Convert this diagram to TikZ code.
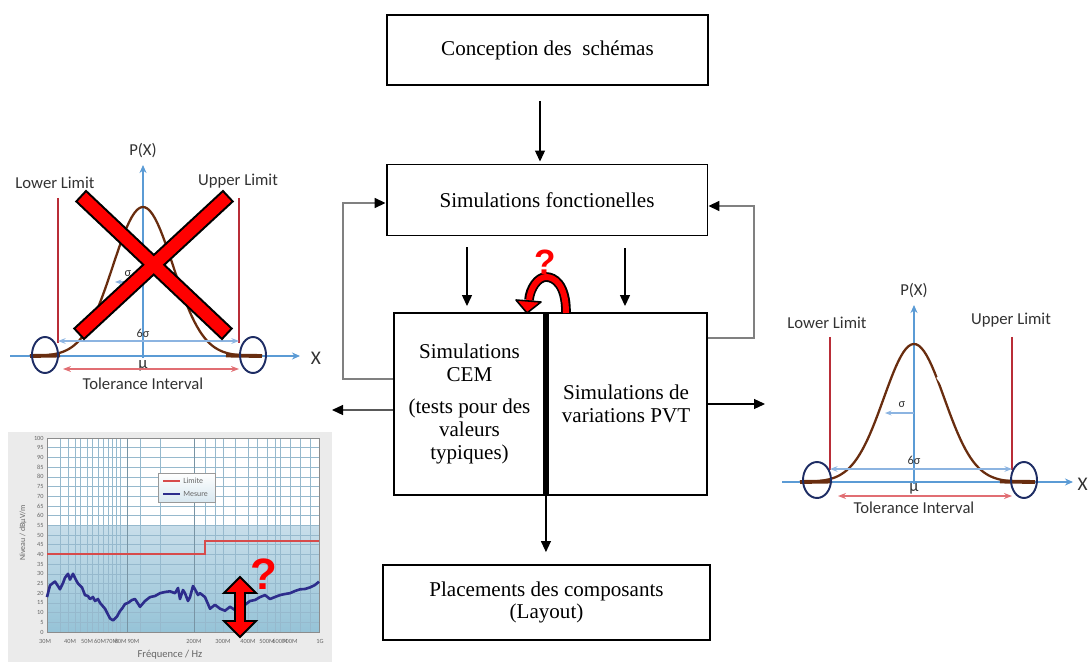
\documentclass[tikz,border=0pt]{standalone}
\usepackage{fontspec}
\setmainfont{Liberation Serif}
\newfontfamily\plotfont{Carlito}
\newfontfamily\qfont{Liberation Sans}
\usetikzlibrary{arrows.meta,calc}
\definecolor{axblue}{RGB}{91,155,213}
\definecolor{sixblue}{RGB}{140,180,225}
\definecolor{limred}{RGB}{185,45,55}
\definecolor{tolred}{RGB}{225,110,115}
\definecolor{bellbrown}{RGB}{105,45,15}
\definecolor{navyc}{RGB}{30,45,100}
\definecolor{fbgray}{RGB}{128,128,128}
\definecolor{gridc}{RGB}{150,185,205}
\definecolor{measblue}{RGB}{45,45,140}
\definecolor{chartred}{RGB}{215,75,75}
\definecolor{fillhi}{RGB}{200,222,234}
\definecolor{filllo}{RGB}{150,195,215}
\definecolor{txtgray}{RGB}{50,50,50}
\tikzset{
  box/.style={draw, line width=1.1pt, align=center, inner sep=0pt, font=\fontsize{12}{13}\selectfont},
  arr/.style={line width=0.7pt, -{Triangle[length=2.2mm,width=2mm]}},
  fbline/.style={draw=fbgray, line width=0.9pt, -{Triangle[length=2.2mm,width=2mm,color=black]}},
  axarrow/.style={axblue, line width=0.6pt, -{Stealth[length=1.6mm,width=1.4mm]}},
  limline/.style={limred, line width=0.9pt},
  bellcurve/.style={bellbrown, line width=1.3pt},
  belltail/.style={bellbrown, line width=2.2pt},
  ringc/.style={navyc, line width=1.1pt},
  sixarrow/.style={sixblue, line width=0.8pt, {Stealth[length=1.5mm]}-{Stealth[length=1.5mm]}},
  tolarrow/.style={tolred, line width=0.9pt, {Stealth[length=1.6mm]}-{Stealth[length=1.6mm]}},
  lbl/.style={font=\plotfont\fontsize{9.5}{11}\selectfont, text=txtgray, inner sep=0pt},
  smalllbl/.style={font=\plotfont\fontsize{7}{8}\selectfont, text=txtgray, inner sep=0pt},
  ticklbl/.style={font=\plotfont\fontsize{3.6}{4}\selectfont, text=black!60, inner sep=0pt},
  qmark/.style={text=red, font=\qfont\bfseries\fontsize{20}{20}\selectfont, inner sep=0pt},
}
\begin{document}
\begin{tikzpicture}[x=0.02cm,y=-0.02cm]
\useasboundingbox (0,0) rectangle (1089,662);

% ===== central flow =====
\node[box, minimum width=6.42cm, minimum height=1.4cm] (conc) at (547.5,50) {Conception des\ \ schémas};
\node[box, minimum width=6.42cm, minimum height=1.42cm] (fonc) at (547,200) {Simulations fonctionelles};
\node[box, minimum width=3.02cm, minimum height=3.64cm] (cem) at (469.5,404)
  {Simulations\\CEM\\[5pt](tests pour des\\valeurs\\typiques)};
\node[box, minimum width=3.24cm, minimum height=3.64cm] (pvt) at (626,404)
  {Simulations de\\variations PVT};
\draw[line width=3pt] (cem.north east) -- (cem.south east);
\node[box, minimum width=6.54cm, minimum height=1.5cm] (place) at (546.5,602.5)
  {Placements des composants\\(Layout)};

\draw[arr, shorten <=0.3cm, shorten >=0.04cm] ([xshift=-0.15cm]conc.south) -- ([xshift=-0.15cm]conc.south |- fonc.north);
\draw[arr, shorten <=0.22cm, shorten >=0.12cm] ([xshift=-0.05cm]cem.north |- fonc.south) -- ([xshift=-0.05cm]cem.north);
\draw[arr, shorten <=0.24cm, shorten >=0.12cm] ([xshift=-0.02cm]pvt.north |- fonc.south) -- ([xshift=-0.02cm]pvt.north);
\draw[fbline] ([yshift=0.5cm]cem.west) -- ++(-1cm,0) |- ([yshift=-0.06cm]fonc.west);
\draw[fbline] ([yshift=1.32cm]pvt.east) -- ++(0.92cm,0) |- ([yshift=-0.12cm]fonc.east);
\coordinate (lout) at (332,410);
\coordinate (rout) at (765,404);
\draw[arr] ([yshift=-0.12cm]cem.west) -- (lout);
\draw[arr] (pvt.east) -- (rout);
\draw[arr, shorten >=0.24cm] (cem.south east) -- (cem.south east |- place.north);

% curved red arrow
\draw[black, line width=5.5pt] (566,312) .. controls (566,284) and (554,277) .. (546,277) .. controls (538,277) and (530,288) .. (529,300);
\draw[red, line width=3.4pt] (566,313) .. controls (566,284) and (554,277) .. (546,277) .. controls (538,277) and (530,288) .. (529,301);
\draw[black, line width=0.9pt, fill=red, line join=round] (516,300) -- (541,302) -- (527,313) -- cycle;
\node[qmark] (q1) at (545,262) {?};

% ===== left bell (crossed) =====
\node[lbl] (pxl) at (143,151) {P(X)};
\draw[axarrow] (10,356) -- (300,356);
\node[lbl, font=\plotfont\fontsize{11}{12}\selectfont] (xl) at (316,358) {X};
\draw[axarrow] (143,358) -- (143,165);
\node[lbl] (lll) at (55,183) {Lower Limit};
\node[lbl] (ull) at (238,181) {Upper Limit};
\draw[limline] (58,198) -- (58,343);
\draw[limline] (239,198) -- (239,343);
\draw[bellcurve] plot[domain=30:262, samples=90] (\x,{356-149*exp(-((\x-143)*(\x-143))/1800)});
\draw[belltail] (30,356) -- (60,355.5);
\draw[belltail] (226,355.5) -- (262,356);
\draw[sixarrow] (58,341) -- (239,341);
\node[smalllbl] (l6s) at (143,333) {6σ};
\draw[sixblue, line width=0.7pt, -{Stealth[length=1.3mm]}] (143,282) -- (115,282);
\node[smalllbl] (lsig) at (128,274) {σ};
\node[lbl] (lmu) at (143,366) {μ};
\draw[tolarrow] (63,369) -- (239,369);
\node[lbl] (ltol) at (143,384) {Tolerance Interval};
\draw[ringc] (45,355) ellipse [x radius=13, y radius=18];
\draw[ringc] (253,355) ellipse [x radius=13, y radius=18];
% red cross
\draw[black, line width=2.4pt, fill=black, line join=miter]
  (77.9,201.4) -- (86.1,192.6) -- (230.1,328.6) -- (221.9,337.4) -- cycle
  (222.9,192.6) -- (231.1,201.4) -- (84.1,337.4) -- (75.9,328.6) -- cycle;
\fill[red] (77.9,201.4) -- (86.1,192.6) -- (230.1,328.6) -- (221.9,337.4) -- cycle;
\fill[red] (222.9,192.6) -- (231.1,201.4) -- (84.1,337.4) -- (75.9,328.6) -- cycle;

% ===== right bell =====
\node[lbl] (pxr) at (914,291) {P(X)};
\draw[axarrow] (782,482) -- (1073,482);
\node[lbl, font=\plotfont\fontsize{11}{12}\selectfont, anchor=east] (xr) at (1088,484) {X};
\draw[axarrow] (914,484) -- (914,305);
\node[lbl] (rll) at (827,323) {Lower Limit};
\node[lbl] (rul) at (1011,320) {Upper Limit};
\draw[limline] (830,337) -- (830,470);
\draw[limline] (1012,337) -- (1012,470);
\draw[bellcurve] plot[domain=800:1030, samples=90] (\x,{482-138*exp(-((\x-914)*(\x-914))/1836)});
\draw[belltail] (800,482) -- (832,481.5);
\draw[belltail] (1000,481.5) -- (1035,482);
\draw[white, line width=1.6pt] (937.5,377) -- (942.5,384);
\draw[sixarrow] (830,469) -- (1012,469);
\node[smalllbl] (r6s) at (914,460) {6σ};
\draw[sixblue, line width=0.7pt, -{Stealth[length=1.3mm]}] (914,413) -- (885,413);
\node[smalllbl] (rsig) at (902,405) {σ};
\node[lbl] (rmu) at (914,489) {μ};
\draw[tolarrow] (838,496) -- (1012,496);
\node[lbl] (rtol) at (914,508) {Tolerance Interval};
\draw[ringc] (817,480) ellipse [x radius=14, y radius=18];
\draw[ringc] (1024,480) ellipse [x radius=13, y radius=18];

% ===== EMC chart =====
\fill[black!8] (8,432) rectangle (332,662);
\fill[white] (47,438) rectangle (319,632);
\shade[top color=fillhi, bottom color=filllo] (47,525) rectangle (319,632);
\foreach \k in {0,...,20} {
  \draw[gridc, line width=0.3pt] (47,{632-9.7*\k}) -- (319,{632-9.7*\k});
}
\foreach \xx in {60,68,75,80,87,92,98,103,108,112,116,120,127,140,160,194,205,215,223,235,248,257,267,275,280,290,300,310} {
  \draw[gridc, line width=0.3pt] (\xx,438) -- (\xx,632);
}
\foreach \xx in {127,194} { \draw[gridc!80!black, line width=0.5pt] (\xx,438) -- (\xx,632); }
\draw[black!45, line width=0.4pt] (47,438) rectangle (319,632);
\foreach \k in {0,5,...,100} {
  \node[ticklbl, anchor=east] (yt\k) at (44,{632-1.94*\k}) {\k};
}
\foreach \xx/\t [count=\i] in {45/30M,70/40M,87/50M,100/60M,112/70M,127/80M\,90M,194/200M,223/300M,248/400M,267/500M,280/600M,290/700M,320/1G} {
  \node[ticklbl] (xt\i) at (\xx,641) {\t};
}
\node[font=\plotfont\fontsize{4.5}{5}\selectfont, text=black!60, rotate=90, inner sep=0pt] (ylab) at (23,533) {Niveau / dBµV/m};
\node[font=\plotfont\fontsize{6}{7}\selectfont, text=black!60, inner sep=0pt] (xlab) at (170,655) {Fréquence / Hz};
% legend
\shade[top color=white, bottom color=fillhi!70, draw=black!40, line width=0.4pt] (158,473) rectangle (215,502);
\draw[chartred, line width=1pt] (163,481) -- (180,481);
\node[ticklbl, anchor=west, font=\plotfont\fontsize{4.5}{5}\selectfont] (leg1) at (183,481) {Limite};
\draw[measblue, line width=1pt] (163,494) -- (180,494);
\node[ticklbl, anchor=west, font=\plotfont\fontsize{4.5}{5}\selectfont] (leg2) at (183,494) {Mesure};
% limit line
\draw[chartred, line width=1.1pt] (47,554.4) -- (205,554.4) -- (205,540.8) -- (319,540.8);
% measurement
\draw[measblue, line width=1.5pt, line join=round] plot coordinates {
(47,597.1) (50,585.4) (53,583) (55,581.6) (58,586) (60,589.3) (63,583) (65,577.7) (68,573.8) (70,579.6) (73,573.8) (76,580) (78,583.5)
(82,587.4) (85,595.1) (88,596) (90,599.0) (93,597) (95,601.0) (98,599) (100,602.9) (105,608.7) (110,618.4)
(113,620.4) (117,616.5) (120,611) (122,608.7) (125,604) (128,602.9) (132,600) (135,599.0) (140,606.8) (145,601.0)
(150,597.1) (155,596) (160,593.2) (165,592) (170,591.3) (175,593.2) (178,588) (180,599.0) (183,590) (185,593.2) (188,601) (190,597.1)
(193,586) (195,589.3) (198,595) (200,593.2) (205,597.1) (210,608.7) (215,604.8) (220,608.7) (225,610.7)
(230,606.8) (235,610) (240,608.7) (245,604.8) (250,601.0) (255,600) (260,597.1) (265,595.1) (270,599.0) (275,597) (280,595.1)
(285,594) (290,593.2) (295,591) (300,589.3) (305,589) (310,587.4) (315,585) (319,581.6)};
% red double arrow & question mark
\draw[black, line width=1.1pt, fill=red, line join=miter]
  (240,577) -- (256,593) -- (245,593) -- (245,621) -- (256,621) -- (240,637)
  -- (224,621) -- (235,621) -- (235,593) -- (224,593) -- cycle;
\node[qmark, font=\qfont\bfseries\fontsize{25}{25}\selectfont] (q2) at (264,574) {?};
\end{tikzpicture}
\end{document}
